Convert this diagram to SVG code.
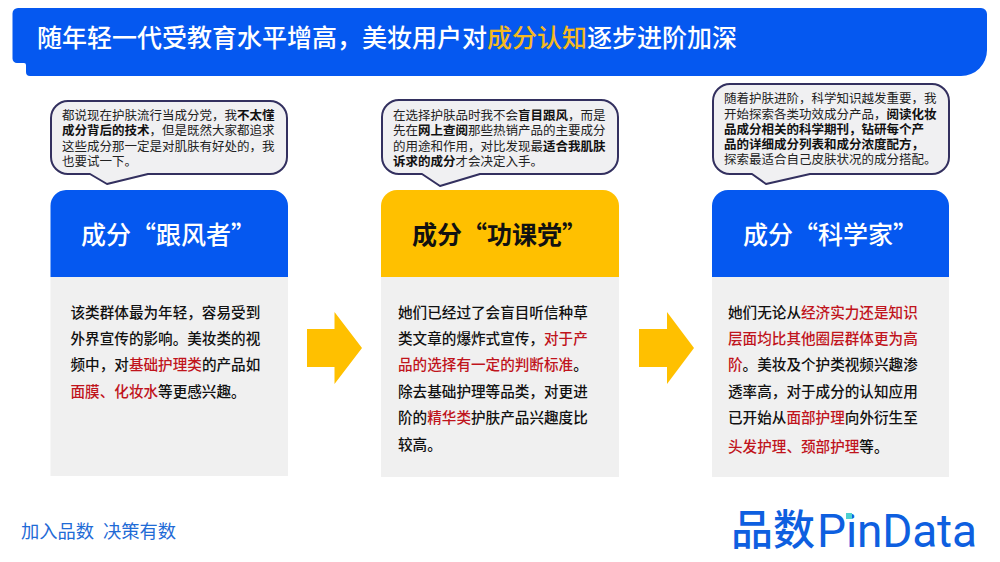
<svg xmlns="http://www.w3.org/2000/svg" width="1000" height="562" viewBox="0 0 1000 562">
<style>
text{font-family:"Noto Sans CJK SC","Liberation Sans",sans-serif}
.bubble{fill:#f0f0f2;stroke:#33305f;stroke-width:2;stroke-linejoin:round}
.bt{font-size:12.5px;fill:#222}
.b{font-weight:700;fill:#111}
.head{font-size:25px;font-weight:500}
.body{fill:#f0f0f0}
.tx{font-size:14.6px;fill:#111;font-weight:500}
.r{fill:#c0141c}
.arrow{fill:#ffc000}
</style>
<rect width="1000" height="562" fill="#fff"/>
<g id="title">
<path d="M18 8H981a6 6 0 0 1 6 6V50a26 26 0 0 1-26 26H30a4 4 0 0 1-4-4V65a2 2 0 0 0-2-2H17a4.500 4.500 0 0 1-4.500-4.500V13.500A5.500 5.500 0 0 1 18 8Z" fill="#0558f0"/>
<text x="37" y="47" font-size="25" font-weight="500" fill="#fff">随年轻一代受教育水平增高，美妆用户对<tspan fill="#f5b921">成分认知</tspan>逐步进阶加深</text>
</g>
<g id="column-1">
<path class="bubble" d="M68 101H270a17 17 0 0 1 17 17V157a17 17 0 0 1-17 17H148L107 184L90 174H68a17 17 0 0 1-17-17V118a17 17 0 0 1 17-17Z"/>
<text class="bt"><tspan x="62" y="120">都说现在护肤流行当成分党，我</tspan><tspan class="b">不太懂</tspan><tspan class="b" x="62" y="135">成分背后的技术</tspan><tspan>，但是既然大家都追求</tspan><tspan x="62" y="151">这些成分那一定是对肌肤有好处的，我</tspan><tspan x="62" y="166">也要试一下。</tspan></text>
<path d="M66 190H272a16 16 0 0 1 16 16V277H50.500V206a16 16 0 0 1 15.500-16Z" fill="#0558f0"/>
<rect class="body" x="50.500" y="277" width="237.500" height="199"/>
<text class="head" x="81" y="243.500" fill="#fff">成分“跟风者”</text>
<text class="tx"><tspan x="70.500" y="317.500">该类群体最为年轻，容易受到</tspan><tspan x="70.500" y="343.500">外界宣传的影响。美妆类的视</tspan><tspan x="70.500" y="369.500">频中，对</tspan><tspan class="r">基础护理类</tspan><tspan>的产品如</tspan><tspan class="r" x="70.500" y="396.500">面膜、化妆水</tspan><tspan>等更感兴趣。</tspan></text>
</g>
<g id="column-2">
<path class="bubble" d="M399 100H601a17 17 0 0 1 17 17V157a17 17 0 0 1-17 17H480L440 186L422 174H399a17 17 0 0 1-17-17V117a17 17 0 0 1 17-17Z"/>
<text class="bt"><tspan x="393" y="120">在选择护肤品时我不会</tspan><tspan class="b">盲目跟风</tspan><tspan>，而是</tspan><tspan x="393" y="135">先在</tspan><tspan class="b">网上查阅</tspan><tspan>那些热销产品的主要成分</tspan><tspan x="393" y="151">的用途和作用，对比发现最</tspan><tspan class="b">适合我肌肤</tspan><tspan class="b" x="393" y="166">诉求的成分</tspan><tspan>才会决定入手。</tspan></text>
<path d="M397 190H603a16 16 0 0 1 16 16V277H381V206a16 16 0 0 1 16-16Z" fill="#ffc000"/>
<rect class="body" x="381" y="277" width="238" height="200"/>
<text class="head" x="412" y="243.500" fill="#111" style="font-weight:700">成分“功课党”</text>
<text class="tx"><tspan x="398" y="317.500">她们已经过了会盲目听信种草</tspan><tspan x="398" y="343.500">类文章的爆炸式宣传，</tspan><tspan class="r">对于产</tspan><tspan class="r" x="398" y="370">品的选择有一定的判断标准</tspan><tspan>。</tspan><tspan x="398" y="396.500">除去基础护理等品类，对更进</tspan><tspan x="398" y="422.500">阶的</tspan><tspan class="r">精华类</tspan><tspan>护肤产品兴趣度比</tspan><tspan x="398" y="449.500">较高。</tspan></text>
</g>
<g id="column-3">
<path class="bubble" d="M730 84H932a17 17 0 0 1 17 17V157a17 17 0 0 1-17 17H810L766 184L752 174H730a17 17 0 0 1-17-17V101a17 17 0 0 1 17-17Z"/>
<text class="bt"><tspan x="724" y="103">随着护肤进阶，科学知识越发重要，我</tspan><tspan x="724" y="119">开始探索各类功效成分产品，</tspan><tspan class="b">阅读化妆</tspan><tspan class="b" x="724" y="134">品成分相关的科学期刊，钻研每个产</tspan><tspan class="b" x="724" y="149">品的详细成分列表和成分浓度配方，</tspan><tspan x="724" y="164">探索最适合自己皮肤状况的成分搭配。</tspan></text>
<path d="M728 190H933a16 16 0 0 1 16 16V277H712V206a16 16 0 0 1 16-16Z" fill="#0558f0"/>
<rect class="body" x="712" y="277" width="237" height="200"/>
<text class="head" x="743" y="243.500" fill="#fff">成分“科学家”</text>
<text class="tx"><tspan x="728" y="317.500">她们无论从</tspan><tspan class="r">经济实力还是知识</tspan><tspan class="r" x="728" y="343.500">层面均比其他圈层群体更为高</tspan><tspan class="r" x="728" y="370">阶</tspan><tspan>。美妆及个护类视频兴趣渗</tspan><tspan x="728" y="396.500">透率高，对于成分的认知应用</tspan><tspan x="728" y="422.500">已开始从</tspan><tspan class="r">面部护理</tspan><tspan>向外衍生至</tspan><tspan class="r" x="728" y="451.500">头发护理、颈部护理</tspan><tspan>等。</tspan></text>
</g>
<g id="connectors">
<path class="arrow" d="M307 329H334.500V312L362 348L334.500 384V367H307Z"/>
<path class="arrow" d="M639 329H667V312L694 348L667 384V367H639Z"/>
</g>
<g id="footer">
<text y="538" font-size="18.300" fill="#1f6bd6"><tspan x="21">加入品数</tspan><tspan x="103">决策有数</tspan></text>
</g>
<g id="logo">
<text x="731" y="545" font-size="42" font-weight="500" fill="#0e5fe0">品数</text>
<text x="817" y="547" font-size="46" textLength="160" fill="#0e5fe0" style="font-family:Roboto,'Liberation Sans',sans-serif">PinData</text>
<rect x="846" y="513" width="6" height="6" fill="#4fd0d0"/>
</g>
</svg>
